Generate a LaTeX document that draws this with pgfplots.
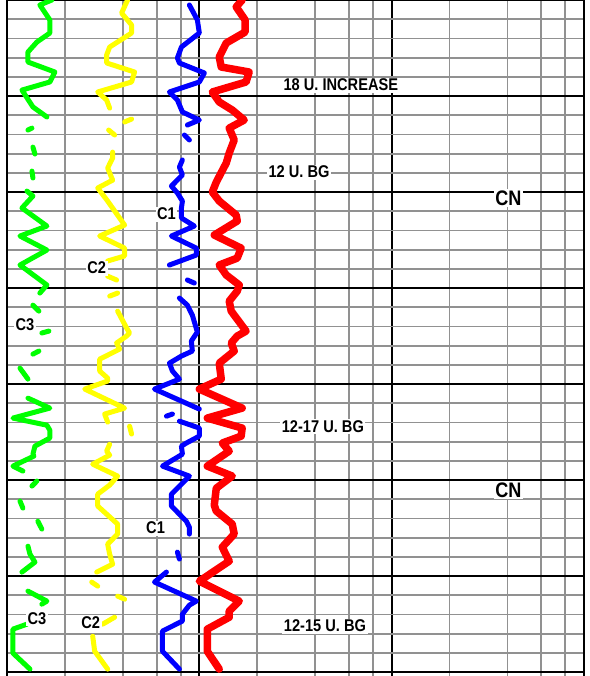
\documentclass[border=0pt]{standalone}
\usepackage{pgfplots}
\pgfplotsset{compat=1.18}
\usepackage{fontspec}
\setmainfont{Liberation Sans}
\newfontfamily\narrow{Liberation Sans}[FakeStretch=0.86]

\definecolor{gridgray}{RGB}{145,145,145}
\definecolor{cgreen}{RGB}{0,255,0}
\definecolor{cyellow}{RGB}{255,255,0}
\definecolor{cblue}{RGB}{0,0,255}
\definecolor{cred}{RGB}{255,0,0}

\tikzset{
  lbl/.style={fill=white, inner sep=1.5pt, font=\narrow\bfseries\fontsize{17pt}{17pt}\selectfont},
  biglbl/.style={lbl, font=\narrow\bfseries\fontsize{21pt}{21pt}\selectfont},
}
\pgfplotsset{
  gas/.style={line width=5pt, line cap=round, line join=round, mark=none},
}

\begin{document}
\begin{tikzpicture}
\useasboundingbox (-7pt,0pt) rectangle (582pt,676pt);
\begin{axis}[
  scale only axis, width=577pt, height=676pt,
  xmode=log, xmin=1, xmax=1000,
  ymin=0, ymax=35.2, y dir=reverse,
  axis line style={draw=none},
  xtick={10,100},
  minor xtick={2,4,6,8,20,40,60,80,200,400,600,800},
  ytick={0,5,...,35},
  minor ytick={1,2,3,4,6,7,8,9,11,12,13,14,16,17,18,19,21,22,23,24,26,27,28,29,31,32,33,34},
  extra x ticks={1,1000}, extra y ticks={10,35},
  extra x tick labels={}, extra y tick labels={},
  extra tick style={grid style={black, line width=3.8pt}},
  grid=both,
  major grid style={black, line width=1.8pt},
  minor grid style={gridgray, line width=1.8pt},
  xticklabels={}, yticklabels={},
  major tick length=0pt, minor tick length=0pt,
  tick style={draw=none},
]
% C3
\addplot[gas, cgreen] coordinates {(1.711,0) (1.482,0.26) (1.670,1.04) (1.670,1.72) (1.430,2.19) (1.285,2.71) (1.285,3.23) (1.773,3.75) (1.670,4.27) (1.196,4.69) (1.364,5.57) (1.612,6.09)};
\addplot[gas, cgreen] coordinates {(1.285,6.77) (1.348,6.67)};
\addplot[gas, cgreen] coordinates {(1.364,7.66) (1.397,8.02)};
\addplot[gas, cgreen] coordinates {(1.348,8.91) (1.364,9.27)};
\addplot[gas, cgreen] coordinates {(1.270,9.95) (1.364,10.21) (1.196,10.83) (1.612,11.77) (1.168,12.29) (1.612,13.02) (1.168,13.80) (1.612,14.84) (1.482,15.26)};
\addplot[gas, cgreen] coordinates {(1.364,15.89) (1.465,16.20)};
\addplot[gas, cgreen] coordinates {(1.518,17.34) (1.651,17.24)};
\addplot[gas, cgreen] coordinates {(1.364,18.44) (1.465,18.28)};
\addplot[gas, cgreen] coordinates {(1.168,19.17) (1.285,19.74)};
\addplot[gas, cgreen] coordinates {(1.285,20.73) (1.670,21.25) (1.074,21.77) (1.612,22.14) (1.670,22.40) (1.670,22.81) (1.397,23.23) (1.364,23.65) (1.380,23.75) (1.074,24.27) (1.210,24.53)};
\addplot[gas, cgreen] coordinates {(1.348,25.31) (1.430,25.05)};
\addplot[gas, cgreen] coordinates {(1.168,26.09) (1.210,26.46)};
\addplot[gas, cgreen] coordinates {(1.447,27.14) (1.518,27.55)};
\addplot[gas, cgreen] coordinates {(1.285,28.44) (1.316,28.85) (1.397,29.27) (1.196,29.79)};
\addplot[gas, cgreen] coordinates {(1.285,30.78) (1.612,31.30) (1.518,31.46)};
\addplot[gas, cgreen] coordinates {(1.270,32.50) (1.074,32.76) (1.074,34.01) (1.316,34.84)};
% C2
\addplot[gas, cyellow] coordinates {(4.236,0) (3.944,0.68) (4.443,1.30) (4.443,1.72) (3.418,2.45) (3.297,2.86) (3.297,3.28) (4.605,3.75) (4.443,4.27) (2.962,4.79) (3.297,5.21) (3.418,5.63)};
\addplot[gas, cyellow] coordinates {(4.087,6.35) (4.443,6.20)};
\addplot[gas, cyellow] coordinates {(3.377,6.77) (3.627,7.03)};
\addplot[gas, cyellow] coordinates {(3.542,7.92) (3.542,8.23) (3.337,8.75) (3.542,9.38) (2.962,9.79) (3.337,10.47) (4.087,11.72) (3.033,12.29) (4.087,12.92) (4.087,13.33) (3.337,13.59)};
\addplot[gas, cyellow] coordinates {(3.337,14.38) (3.715,14.58)};
\addplot[gas, cyellow] coordinates {(3.418,15.42) (3.760,15.26)};
\addplot[gas, cyellow] coordinates {(3.760,16.20) (4.186,17.08) (4.339,17.34) (4.186,17.50) (3.715,17.86) (3.850,18.18) (3.033,18.70) (3.033,19.32) (3.337,19.69) (3.337,19.84) (2.536,20.26) (4.087,21.25) (3.219,21.56) (3.337,21.98)};
\addplot[gas, cyellow] coordinates {(4.339,22.19) (4.443,22.60)};
\addplot[gas, cyellow] coordinates {(3.418,23.13) (3.297,23.49) (3.418,23.70) (2.790,24.17) (3.760,24.79) (3.418,25.26) (2.962,25.73) (2.962,26.35) (3.760,27.29) (3.760,27.81) (3.337,28.33) (3.418,28.85) (3.542,29.38) (2.926,29.79)};
\addplot[gas, cyellow] coordinates {(2.757,30.31) (2.962,30.52)};
\addplot[gas, cyellow] coordinates {(3.760,31.04) (4.087,31.20)};
\addplot[gas, cyellow] coordinates {(3.144,32.50) (3.627,32.14)};
\addplot[gas, cyellow] coordinates {(2.790,33.13) (2.857,33.91) (3.337,34.84)};
% C1
\addplot[gas, cblue] coordinates {(8.877,0.26) (9.766,1.04) (10.0,1.72) (8.07,2.45) (7.692,3.02) (7.878,3.28) (10.62,3.80) (10.0,4.27) (6.992,4.79) (7.692,5.21) (8.166,5.83) (10.0,6.25) (8.667,6.51)};
\addplot[gas, cblue] coordinates {(8.362,7.03) (8.877,7.29)};
\addplot[gas, cblue] coordinates {(8.166,8.33) (7.878,8.70) (8.166,9.11) (7.16,9.69) (7.692,10.05) (8.166,10.47) (8.07,10.83) (8.07,11.35) (9.42,11.77) (7.16,12.29) (9.65,12.92) (9.65,13.28) (6.992,13.80)};
\addplot[gas, cblue] coordinates {(8.667,14.58) (9.42,14.74)};
\addplot[gas, cblue] coordinates {(7.878,15.52) (8.667,15.89) (9.198,16.41) (9.766,17.29) (9.09,17.76) (9.198,18.28) (8.07,18.54) (6.992,18.91) (7.247,19.32) (7.878,19.74) (5.847,20.26) (10.0,21.30)};
\addplot[gas, cblue] coordinates {(6.745,21.67) (7.247,21.56)};
\addplot[gas, cblue] coordinates {(7.878,21.93) (10.0,22.29) (10.0,22.71) (8.56,23.07) (8.07,23.23) (8.166,23.65) (6.432,24.27) (8.877,24.79) (8.07,25.21) (7.16,25.73) (7.16,26.35) (8.56,27.14) (8.877,27.45) (8.877,27.81)};
\addplot[gas, cblue] coordinates {(7.692,28.75) (7.878,29.11)};
\addplot[gas, cblue] coordinates {(6.745,29.79) (5.847,30.31) (9.65,31.30) (8.877,31.51) (8.166,31.98) (8.166,32.34) (6.432,32.86) (6.432,33.91) (7.878,34.84)};
% total gas
\addplot[gas, cred, line width=7.5pt] coordinates {(16.70,0) (15.55,0.36) (17.3,1.04) (17.3,1.67) (13.8,2.24) (12.69,2.97) (13.0,3.49) (18.16,3.75) (17.5,4.27) (11.68,4.79) (12.69,5.31) (14.83,5.73) (17.11,6.25) (14.30,6.67) (15.18,7.29) (14.30,7.97) (13.8,8.49) (12.25,9.48) (11.68,10.0) (12.69,10.47) (15.55,11.20) (15.74,11.51) (11.96,12.24) (16.5,12.92) (15.74,13.44) (12.69,13.80) (13.8,14.32) (16.12,14.84) (15.74,15.16) (14.30,15.68) (14.65,16.20) (17.5,17.24) (15.74,17.50) (14.65,17.86) (15.18,18.28) (12.69,18.91) (13.0,19.74) (10.0,20.26) (16.70,21.25) (11.0,21.77) (16.70,22.29) (16.5,22.71) (13.16,23.07) (14.30,23.49) (11.0,24.27) (14.83,24.79) (12.25,25.42) (11.96,26.30) (12.25,26.61) (14.83,27.29) (15.18,27.81) (13.16,28.49) (14.30,29.22) (10.0,30.26) (16.12,31.30) (14.30,31.82) (14.30,32.14) (11.0,32.76) (11.0,33.91) (12.69,34.84)};

\node[lbl] at (axis cs:54.4,4.43) {18 U. INCREASE};
\node[lbl] at (axis cs:33.0,8.96) {12 U. BG};
\node[lbl] at (axis cs:43.9,22.19) {12-17 U. BG};
\node[lbl] at (axis cs:45.0,32.60) {12-15 U. BG};
\node[biglbl] at (axis cs:404,10.31) {CN};
\node[biglbl] at (axis cs:404,25.52) {CN};
\node[lbl] at (axis cs:6.745,11.15) {C1};
\node[lbl] at (axis cs:2.926,13.96) {C2};
\node[lbl] at (axis cs:1.240,16.93) {C3};
\node[lbl] at (axis cs:5.92,27.5) {C1};
\node[lbl] at (axis cs:1.430,32.19) {C3};
\node[lbl] at (axis cs:2.724,32.40) {C2};
\end{axis}
\end{tikzpicture}
\end{document}
